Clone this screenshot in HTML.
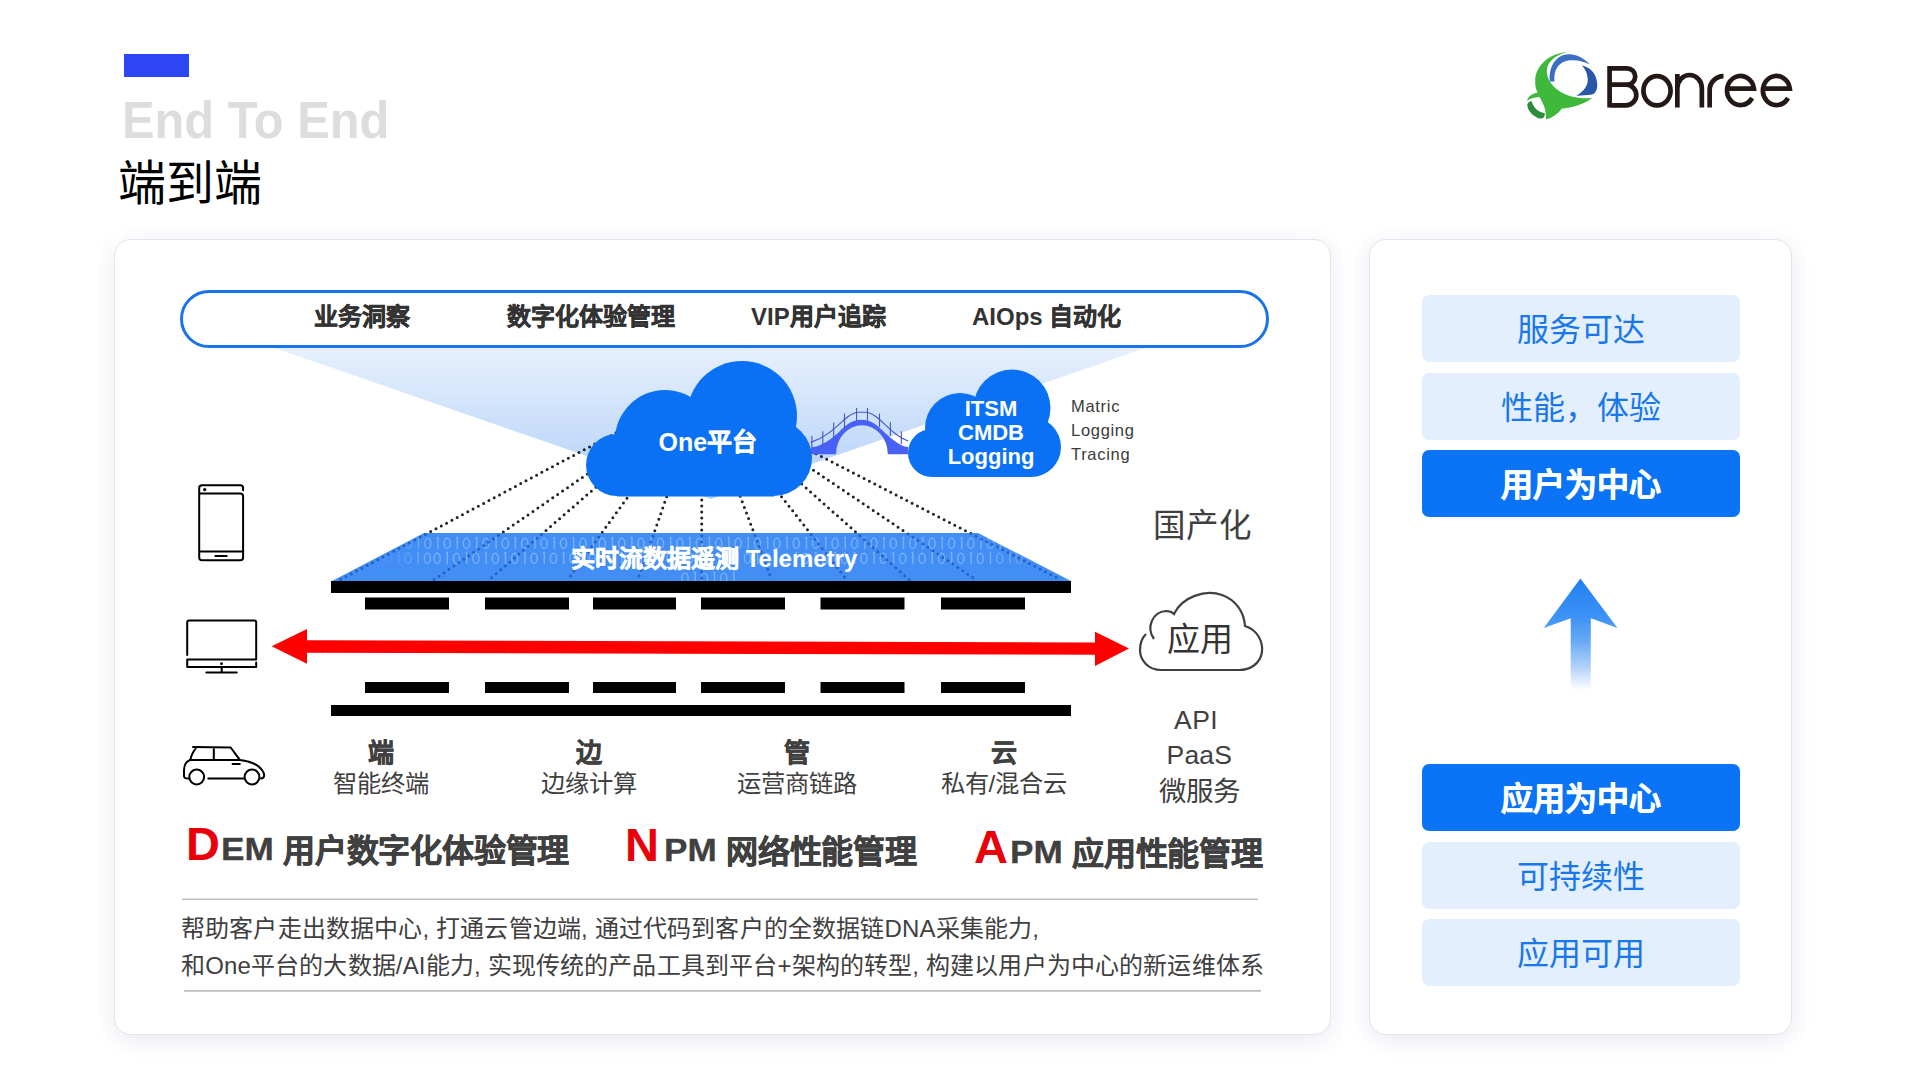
<!DOCTYPE html>
<html lang="zh-CN">
<head>
<meta charset="utf-8">
<style>
html,body{margin:0;padding:0;}
body{width:1920px;height:1080px;position:relative;overflow:hidden;background:#fff;font-family:"Liberation Sans",sans-serif;}
.a{position:absolute;white-space:nowrap;line-height:1;}
.card{position:absolute;background:#fff;border:1px solid #e3e4ec;border-radius:17px;box-shadow:0 5px 22px rgba(50,60,140,0.11);box-sizing:border-box;}
.box{position:absolute;left:1422px;width:318px;height:67px;border-radius:7px;background:#e4effd;color:#1877ea;font-size:32px;text-align:center;line-height:71.5px;}
.box.b{background:#0b74f6;color:#fff;font-weight:bold;-webkit-text-stroke:0.6px #fff;}
.sk{-webkit-text-stroke:0.5px currentColor;}
.sk6{-webkit-text-stroke:0.6px currentColor;}
svg{position:absolute;left:0;top:0;}
</style>
</head>
<body>
<!-- header -->
<div class="a" style="left:124px;top:54px;width:65px;height:23px;background:#2b46f2;"></div>
<div class="a" id="ete" style="left:122px;top:94px;transform:scaleX(0.938);transform-origin:0 0;font-size:52px;font-weight:bold;color:#dddddd;">End To End</div>
<div class="a" id="ddd" style="left:118px;top:160px;font-size:48px;color:#000;">端到端</div>

<!-- cards -->
<div class="card" style="left:114px;top:239px;width:1217px;height:796px;"></div>
<div class="card" style="left:1369px;top:239px;width:423px;height:796px;"></div>

<!-- right panel boxes -->
<div class="box" style="top:295px;">服务可达</div>
<div class="box" style="top:373px;">性能，体验</div>
<div class="box b" style="top:450px;">用户为中心</div>
<div class="box b" style="top:764px;">应用为中心</div>
<div class="box" style="top:842px;">可持续性</div>
<div class="box" style="top:919px;">应用可用</div>

<svg width="1920" height="1080" viewBox="0 0 1920 1080">
<defs>
<linearGradient id="beam" x1="0" y1="348" x2="0" y2="499" gradientUnits="userSpaceOnUse">
<stop offset="0" stop-color="#e6f0fd"/>
<stop offset="1" stop-color="#b0cff8"/>
</linearGradient>
<linearGradient id="uparr" x1="0" y1="578" x2="0" y2="690" gradientUnits="userSpaceOnUse">
<stop offset="0" stop-color="#1f7ff0"/>
<stop offset="0.35" stop-color="#3d93f5"/>
<stop offset="0.55" stop-color="#64a7f6"/>
<stop offset="0.8" stop-color="#b3d3f9"/>
<stop offset="1" stop-color="#ffffff"/>
</linearGradient>
<clipPath id="trapclip"><polygon points="424,533 978,533 1071,581 332,581"/></clipPath>
<linearGradient id="binfade" x1="380" y1="0" x2="1060" y2="0" gradientUnits="userSpaceOnUse">
<stop offset="0" stop-color="#8fbdf7" stop-opacity="0"/>
<stop offset="0.08" stop-color="#82b7f9" stop-opacity="0.85"/>
<stop offset="0.88" stop-color="#82b7f9" stop-opacity="0.85"/>
<stop offset="1" stop-color="#8fbdf7" stop-opacity="0"/>
</linearGradient>
</defs>

<!-- beam -->
<polygon points="275,348 1145,348 711,499" fill="url(#beam)"/>

<!-- dotted lines -->
<g stroke="#222" stroke-width="3" stroke-linecap="round" stroke-dasharray="0 6" fill="none">
<line x1="621.3" y1="430" x2="338" y2="581"/>
<line x1="636.7" y1="440" x2="433.5" y2="580"/>
<line x1="650.2" y1="440" x2="489" y2="580"/>
<line x1="669.3" y1="440" x2="567.5" y2="580"/>
<line x1="686.4" y1="440" x2="637.7" y2="580"/>
<line x1="701.9" y1="440" x2="701.6" y2="580"/>
<line x1="719" y1="440" x2="771.7" y2="580"/>
<line x1="737.2" y1="440" x2="846.8" y2="580"/>
<line x1="752.4" y1="440" x2="909.4" y2="580"/>
<line x1="768.7" y1="440" x2="976.4" y2="580"/>
<line x1="789.4" y1="440" x2="1061.3" y2="580"/>
</g>

<!-- telemetry trapezoid -->
<polygon points="424,533 978,533 1071,581 332,581" fill="#428ef5"/>

<g clip-path="url(#trapclip)" fill="none" stroke="url(#binfade)" stroke-width="1.4">
<ellipse cx="388.9" cy="543.4" rx="3.1" ry="5.1"/>
<path d="M397.8,537.8 l1.3,-0.2 v11.4"/>
<ellipse cx="408.3" cy="543.4" rx="3.1" ry="5.1"/>
<path d="M417.2,537.8 l1.3,-0.2 v11.4"/>
<ellipse cx="427.7" cy="543.4" rx="3.1" ry="5.1"/>
<path d="M436.6,537.8 l1.3,-0.2 v11.4"/>
<ellipse cx="447.1" cy="543.4" rx="3.1" ry="5.1"/>
<path d="M456.0,537.8 l1.3,-0.2 v11.4"/>
<ellipse cx="466.5" cy="543.4" rx="3.1" ry="5.1"/>
<path d="M475.4,537.8 l1.3,-0.2 v11.4"/>
<ellipse cx="485.9" cy="543.4" rx="3.1" ry="5.1"/>
<path d="M494.8,537.8 l1.3,-0.2 v11.4"/>
<ellipse cx="505.3" cy="543.4" rx="3.1" ry="5.1"/>
<path d="M514.2,537.8 l1.3,-0.2 v11.4"/>
<ellipse cx="524.7" cy="543.4" rx="3.1" ry="5.1"/>
<path d="M533.6,537.8 l1.3,-0.2 v11.4"/>
<ellipse cx="544.1" cy="543.4" rx="3.1" ry="5.1"/>
<path d="M553.0,537.8 l1.3,-0.2 v11.4"/>
<ellipse cx="563.5" cy="543.4" rx="3.1" ry="5.1"/>
<path d="M572.4,537.8 l1.3,-0.2 v11.4"/>
<ellipse cx="582.9" cy="543.4" rx="3.1" ry="5.1"/>
<path d="M591.8,537.8 l1.3,-0.2 v11.4"/>
<ellipse cx="602.3" cy="543.4" rx="3.1" ry="5.1"/>
<path d="M611.2,537.8 l1.3,-0.2 v11.4"/>
<ellipse cx="621.7" cy="543.4" rx="3.1" ry="5.1"/>
<path d="M630.6,537.8 l1.3,-0.2 v11.4"/>
<ellipse cx="641.1" cy="543.4" rx="3.1" ry="5.1"/>
<path d="M650.0,537.8 l1.3,-0.2 v11.4"/>
<ellipse cx="660.5" cy="543.4" rx="3.1" ry="5.1"/>
<path d="M669.4,537.8 l1.3,-0.2 v11.4"/>
<ellipse cx="679.9" cy="543.4" rx="3.1" ry="5.1"/>
<path d="M688.8,537.8 l1.3,-0.2 v11.4"/>
<ellipse cx="699.3" cy="543.4" rx="3.1" ry="5.1"/>
<path d="M708.2,537.8 l1.3,-0.2 v11.4"/>
<ellipse cx="718.7" cy="543.4" rx="3.1" ry="5.1"/>
<path d="M727.6,537.8 l1.3,-0.2 v11.4"/>
<ellipse cx="738.1" cy="543.4" rx="3.1" ry="5.1"/>
<path d="M747.0,537.8 l1.3,-0.2 v11.4"/>
<ellipse cx="757.5" cy="543.4" rx="3.1" ry="5.1"/>
<path d="M766.4,537.8 l1.3,-0.2 v11.4"/>
<ellipse cx="776.9" cy="543.4" rx="3.1" ry="5.1"/>
<path d="M785.8,537.8 l1.3,-0.2 v11.4"/>
<ellipse cx="796.3" cy="543.4" rx="3.1" ry="5.1"/>
<path d="M805.2,537.8 l1.3,-0.2 v11.4"/>
<ellipse cx="815.7" cy="543.4" rx="3.1" ry="5.1"/>
<path d="M824.6,537.8 l1.3,-0.2 v11.4"/>
<ellipse cx="835.1" cy="543.4" rx="3.1" ry="5.1"/>
<path d="M844.0,537.8 l1.3,-0.2 v11.4"/>
<ellipse cx="854.5" cy="543.4" rx="3.1" ry="5.1"/>
<path d="M863.4,537.8 l1.3,-0.2 v11.4"/>
<ellipse cx="873.9" cy="543.4" rx="3.1" ry="5.1"/>
<path d="M882.8,537.8 l1.3,-0.2 v11.4"/>
<ellipse cx="893.3" cy="543.4" rx="3.1" ry="5.1"/>
<path d="M902.2,537.8 l1.3,-0.2 v11.4"/>
<ellipse cx="912.7" cy="543.4" rx="3.1" ry="5.1"/>
<path d="M921.6,537.8 l1.3,-0.2 v11.4"/>
<ellipse cx="932.1" cy="543.4" rx="3.1" ry="5.1"/>
<path d="M941.0,537.8 l1.3,-0.2 v11.4"/>
<ellipse cx="951.5" cy="543.4" rx="3.1" ry="5.1"/>
<path d="M960.4,537.8 l1.3,-0.2 v11.4"/>
<ellipse cx="970.9" cy="543.4" rx="3.1" ry="5.1"/>
<path d="M979.8,537.8 l1.3,-0.2 v11.4"/>
<ellipse cx="990.3" cy="543.4" rx="3.1" ry="5.1"/>
<path d="M999.2,537.8 l1.3,-0.2 v11.4"/>
<ellipse cx="1009.7" cy="543.4" rx="3.1" ry="5.1"/>
<ellipse cx="359.5" cy="558.4" rx="3.1" ry="5.1"/>
<path d="M368.4,552.8 l1.3,-0.2 v11.4"/>
<path d="M378.1,552.8 l1.3,-0.2 v11.4"/>
<ellipse cx="388.6" cy="558.4" rx="3.1" ry="5.1"/>
<path d="M397.5,552.8 l1.3,-0.2 v11.4"/>
<ellipse cx="408.0" cy="558.4" rx="3.1" ry="5.1"/>
<path d="M416.9,552.8 l1.3,-0.2 v11.4"/>
<ellipse cx="427.4" cy="558.4" rx="3.1" ry="5.1"/>
<ellipse cx="437.1" cy="558.4" rx="3.1" ry="5.1"/>
<path d="M446.0,552.8 l1.3,-0.2 v11.4"/>
<ellipse cx="456.5" cy="558.4" rx="3.1" ry="5.1"/>
<path d="M465.4,552.8 l1.3,-0.2 v11.4"/>
<ellipse cx="475.9" cy="558.4" rx="3.1" ry="5.1"/>
<path d="M484.8,552.8 l1.3,-0.2 v11.4"/>
<ellipse cx="495.3" cy="558.4" rx="3.1" ry="5.1"/>
<path d="M504.2,552.8 l1.3,-0.2 v11.4"/>
<ellipse cx="514.7" cy="558.4" rx="3.1" ry="5.1"/>
<path d="M523.6,552.8 l1.3,-0.2 v11.4"/>
<ellipse cx="534.1" cy="558.4" rx="3.1" ry="5.1"/>
<path d="M543.0,552.8 l1.3,-0.2 v11.4"/>
<ellipse cx="553.5" cy="558.4" rx="3.1" ry="5.1"/>
<path d="M562.4,552.8 l1.3,-0.2 v11.4"/>
<ellipse cx="572.9" cy="558.4" rx="3.1" ry="5.1"/>
<path d="M581.8,552.8 l1.3,-0.2 v11.4"/>
<ellipse cx="592.3" cy="558.4" rx="3.1" ry="5.1"/>
<path d="M601.2,552.8 l1.3,-0.2 v11.4"/>
<ellipse cx="611.7" cy="558.4" rx="3.1" ry="5.1"/>
<path d="M620.6,552.8 l1.3,-0.2 v11.4"/>
<ellipse cx="631.1" cy="558.4" rx="3.1" ry="5.1"/>
<path d="M640.0,552.8 l1.3,-0.2 v11.4"/>
<ellipse cx="650.5" cy="558.4" rx="3.1" ry="5.1"/>
<path d="M659.4,552.8 l1.3,-0.2 v11.4"/>
<ellipse cx="669.9" cy="558.4" rx="3.1" ry="5.1"/>
<path d="M678.8,552.8 l1.3,-0.2 v11.4"/>
<ellipse cx="689.3" cy="558.4" rx="3.1" ry="5.1"/>
<path d="M698.2,552.8 l1.3,-0.2 v11.4"/>
<ellipse cx="708.7" cy="558.4" rx="3.1" ry="5.1"/>
<path d="M717.6,552.8 l1.3,-0.2 v11.4"/>
<ellipse cx="728.1" cy="558.4" rx="3.1" ry="5.1"/>
<path d="M737.0,552.8 l1.3,-0.2 v11.4"/>
<ellipse cx="747.5" cy="558.4" rx="3.1" ry="5.1"/>
<path d="M756.4,552.8 l1.3,-0.2 v11.4"/>
<ellipse cx="766.9" cy="558.4" rx="3.1" ry="5.1"/>
<path d="M775.8,552.8 l1.3,-0.2 v11.4"/>
<ellipse cx="786.3" cy="558.4" rx="3.1" ry="5.1"/>
<path d="M795.2,552.8 l1.3,-0.2 v11.4"/>
<ellipse cx="805.7" cy="558.4" rx="3.1" ry="5.1"/>
<path d="M814.6,552.8 l1.3,-0.2 v11.4"/>
<ellipse cx="825.1" cy="558.4" rx="3.1" ry="5.1"/>
<path d="M834.0,552.8 l1.3,-0.2 v11.4"/>
<ellipse cx="844.5" cy="558.4" rx="3.1" ry="5.1"/>
<path d="M853.4,552.8 l1.3,-0.2 v11.4"/>
<ellipse cx="863.9" cy="558.4" rx="3.1" ry="5.1"/>
<path d="M872.8,552.8 l1.3,-0.2 v11.4"/>
<ellipse cx="883.3" cy="558.4" rx="3.1" ry="5.1"/>
<path d="M892.2,552.8 l1.3,-0.2 v11.4"/>
<ellipse cx="902.7" cy="558.4" rx="3.1" ry="5.1"/>
<path d="M911.6,552.8 l1.3,-0.2 v11.4"/>
<ellipse cx="922.1" cy="558.4" rx="3.1" ry="5.1"/>
<path d="M931.0,552.8 l1.3,-0.2 v11.4"/>
<ellipse cx="941.5" cy="558.4" rx="3.1" ry="5.1"/>
<path d="M950.4,552.8 l1.3,-0.2 v11.4"/>
<ellipse cx="960.9" cy="558.4" rx="3.1" ry="5.1"/>
<path d="M969.8,552.8 l1.3,-0.2 v11.4"/>
<ellipse cx="980.3" cy="558.4" rx="3.1" ry="5.1"/>
<path d="M989.2,552.8 l1.3,-0.2 v11.4"/>
<ellipse cx="999.7" cy="558.4" rx="3.1" ry="5.1"/>
<path d="M1008.6,552.8 l1.3,-0.2 v11.4"/>
<ellipse cx="1019.1" cy="558.4" rx="3.1" ry="5.1"/>
<path d="M1028.0,552.8 l1.3,-0.2 v11.4"/>
<ellipse cx="685.0" cy="578.2" rx="3.1" ry="5.1"/>
<path d="M693.9,572.6 l1.3,-0.2 v11.4"/>
<ellipse cx="704.4" cy="578.2" rx="3.1" ry="5.1"/>
<path d="M713.3,572.6 l1.3,-0.2 v11.4"/>
<ellipse cx="723.8" cy="578.2" rx="3.1" ry="5.1"/>
<path d="M732.7,572.6 l1.3,-0.2 v11.4"/>
</g>

<!-- dots over trapezoid -->
<g clip-path="url(#trapclip)" stroke="#1d58c4" stroke-opacity="0.85" stroke-width="3" stroke-linecap="round" stroke-dasharray="0 6" fill="none">
<line x1="621.3" y1="430" x2="338" y2="581"/>
<line x1="636.7" y1="440" x2="433.5" y2="580"/>
<line x1="650.2" y1="440" x2="489" y2="580"/>
<line x1="669.3" y1="440" x2="567.5" y2="580"/>
<line x1="686.4" y1="440" x2="637.7" y2="580"/>
<line x1="701.9" y1="440" x2="701.6" y2="580"/>
<line x1="719" y1="440" x2="771.7" y2="580"/>
<line x1="737.2" y1="440" x2="846.8" y2="580"/>
<line x1="752.4" y1="440" x2="909.4" y2="580"/>
<line x1="768.7" y1="440" x2="976.4" y2="580"/>
<line x1="789.4" y1="440" x2="1061.3" y2="580"/>
</g>


<!-- bars -->
<g fill="#000">
<rect x="331" y="581" width="740" height="12"/>
<rect x="331" y="705" width="740" height="11"/>
<rect x="365" y="597.5" width="84" height="12"/>
<rect x="485" y="597.5" width="84" height="12"/>
<rect x="593" y="597.5" width="83" height="12"/>
<rect x="701" y="597.5" width="84" height="12"/>
<rect x="820.5" y="597.5" width="84" height="12"/>
<rect x="941" y="597.5" width="84" height="12"/>
<rect x="365" y="682" width="84" height="11"/>
<rect x="485" y="682" width="84" height="11"/>
<rect x="593" y="682" width="83" height="11"/>
<rect x="701" y="682" width="84" height="11"/>
<rect x="820.5" y="682" width="84" height="11"/>
<rect x="941" y="682" width="84" height="11"/>
</g>

<!-- red arrow -->
<polygon fill="#ff0000" points="271.7,646.3 307,629 307,640.3 1095,642.4 1095,631.8 1129,648.5 1095,666 1095,654.7 307,652.8 307,663.8"/>

<!-- One cloud -->
<g fill="#0a71f5">
<circle cx="742" cy="416" r="55"/>
<circle cx="665" cy="440" r="50"/>
<circle cx="617" cy="465" r="31"/>
<circle cx="774" cy="458" r="38"/>
<rect x="617" y="440" width="157" height="56.5"/>
</g>

<!-- ITSM cloud -->
<g fill="#0a71f5">
<circle cx="1012" cy="408" r="38.5"/>
<circle cx="960" cy="428" r="35"/>
<circle cx="932" cy="453" r="24"/>
<circle cx="1031" cy="447" r="30"/>
<rect x="932" y="430" width="99" height="47"/>
</g>

<!-- bridge -->
<path fill="#4861f4" d="M811,447.6 C822,446 830,440 838,433 C846,425 852,419.8 861.5,419.8 C871,419.8 877,425 885,433 C893,440 900,446 908,447 L908,454.2 L887.8,454.2 A25.9 29 0 0 0 836,454.2 L811,454.2 Z"/>
<g fill="none" stroke="#4654c8" stroke-width="1.1">
<path d="M810.7,442.4 C825,438 835,428 845,419 C851,414 854,412.3 858,412.3 L866,412.3 C870,412.3 873,414 879,419 C889,428 897,437 908.2,441"/>
<path d="M811.9,436.1 V448 M822.8,431.2 V445 M833.7,422.6 V438 M844.5,413.5 V428 M856.6,408 V421 M867.5,408 V421 M879.5,413.5 V427 M890.4,422.3 V436 M901.3,431.2 V444"/>
</g>

<!-- outline cloud (应用) -->
<path fill="none" stroke="#404040" stroke-width="2.2" d="M1154,639 C1146,628 1152,612 1166,611 C1170,611 1172,612 1174,614 C1182,597 1205,589 1222,595 C1236,600 1244,612 1245,626 C1258,630 1263,642 1262,652 C1260,664 1250,670 1239,670 L1161,670 C1148,670 1140,660 1140,650 C1140,643 1143,637 1146,634"/>

<!-- up arrow (right panel) -->
<path fill="url(#uparr)" d="M1580.4,578.5 L1617.5,628 L1590.8,618.3 L1590.8,692 L1570.7,692 L1570.7,618.3 L1543.8,628 Z"/>

<!-- device icons -->
<g fill="none" stroke="#000" stroke-width="2" stroke-linecap="round" stroke-linejoin="round">
<!-- phone -->
<path d="M243.1,490.2 V488 Q243.1,485.3 240.4,485.3 H202 Q199.2,485.3 199.2,488 V557.5 Q199.2,560.3 202,560.3 H240.4 Q243.1,560.3 243.1,557.5 V496.4 Q243.1,493.6 240.3,493.6 H200"/>
<path d="M200,551.5 H242.5"/>
<path d="M215.4,556 H226.7"/>
<!-- monitor -->
<path d="M187.2,655 V622.5 Q187.2,620.6 189,620.6 H254.5 Q256.2,620.6 256.2,622.5 V659.6 H187.2 V667 H256.2 V662.5"/>
<path d="M221.7,667 V672.5 M206.3,672.5 H236.7"/>
<!-- car -->
<path d="M193,747 L230.7,747.5 L239.8,759.8 M196,748 C193,752 191,756 190.4,759.5 M213.8,748 V760 M190,760 H240 C248,761 258,764 262,770 C265,774 265,778 261,778.5 M190,760 C185,762 184,766 184,770 L184,776 C184,778 186,778.5 188.5,778.5 M208.3,778.5 H243.4 M232.6,764 H239.8"/>
<circle cx="196.7" cy="777" r="7.4"/>
<circle cx="252" cy="777" r="7.4"/>
</g>
<circle cx="204.7" cy="489.6" r="1.7" fill="#000"/>
<circle cx="221.5" cy="663.7" r="1.4" fill="#000"/>

<!-- separators -->
<line x1="182" y1="899.2" x2="1258" y2="899.2" stroke="#bdbdbd" stroke-width="1.6"/>
<line x1="184" y1="990.9" x2="1261" y2="990.9" stroke="#bdbdbd" stroke-width="1.6"/>

<!-- logo -->
<g id="logoicon">
<path fill="#3fb83b" d="M1567.4,52 C1550,53 1536,65 1535.2,80 C1535,86 1536,90 1537.8,92.4 C1533,93 1528,96 1527,101 C1531,98 1536,97 1539.3,97 C1542,101 1545,107 1545.5,112 C1546,115 1546,118 1546,119.4 C1552,118 1558,114 1561.5,108.7 C1572,108 1585,104 1591.9,98 C1580,99 1568,97 1559.3,91 C1550,85 1546,76 1547,69.4 C1548,61 1556,55 1567.4,52 Z"/>
<path fill="#2a8c3c" d="M1531.5,101 C1528,102 1527,104 1527.4,106 C1528,111 1533,116 1538.5,118.3 C1541,119 1543,118.5 1544,117 C1545,115 1545,113.5 1544.4,113 C1541,112.5 1538,111 1536,109 C1534,107 1532.5,104 1531.5,101 Z"/>
<path fill="#3b6fc6" d="M1549.8,81.5 C1548.5,70 1553,59.5 1562,55.5 C1571,52 1582,55.5 1590,64.6 C1582,60.5 1572,58.8 1564,61.8 C1557,64.8 1553.5,72 1554.5,81.5 Z"/>
<path fill="#2857a7" d="M1581.5,65.4 C1590,67 1596,73 1597,82 C1598,89 1596,93 1592,94.6 C1586,95.5 1580,95.8 1576.3,95.7 C1583,92 1588,86 1587.8,79.8 C1587.5,73 1585,68 1581.5,65.4 Z"/>
</g>
<g id="logo">
<g fill="none" stroke="#231815" stroke-width="4.7">
<path d="M1609.6,66 V107.6 M1609.6,68.3 H1627 A8.2 8.2 0 0 1 1627,84.7 H1609.6 M1627,84.7 H1626 A10.3 10.3 0 0 1 1626,105.3 H1609.6"/>
<ellipse cx="1657" cy="90.7" rx="13.6" ry="14.6"/>
<path d="M1677.35,74 V107.6 M1677.35,88 A12.25 13 0 0 1 1701.85,88 V107.6"/>
<path d="M1709.65,107.6 V90 A14 14 0 0 1 1723.5,76.1"/>
<path d="M1726.9,88.6 H1753.9 A13.5 14.6 0 1 0 1752.1,98"/>
<path d="M1762.8,88.6 H1789.8 A13.5 14.6 0 1 0 1788,98"/>
</g>
</g>
</svg>

<!-- pill -->
<div class="a" style="left:180px;top:290px;width:1083px;height:52px;border:3px solid #1a73e8;border-radius:30px;background:#fff;"></div>
<div class="a" style="left:314px;top:305px;font-size:24px;font-weight:bold;color:#333;-webkit-text-stroke:0.5px #333;">业务洞察</div>
<div class="a" style="left:507px;top:305px;font-size:24px;font-weight:bold;color:#333;-webkit-text-stroke:0.5px #333;">数字化体验管理</div>
<div class="a" style="left:751px;top:305px;font-size:24px;font-weight:bold;color:#333;">VIP<span class="sk">用户追踪</span></div>
<div class="a" style="left:972px;top:305px;font-size:24px;font-weight:bold;color:#333;">AIOps <span class="sk">自动化</span></div>

<!-- cloud texts -->
<div class="a" style="left:658.5px;top:430px;font-size:25px;font-weight:bold;color:#fff;">One<span class="sk">平台</span></div>
<div class="a" style="left:930px;top:397px;width:122px;text-align:center;font-size:22px;font-weight:bold;color:#fff;line-height:24px;">ITSM<br>CMDB<br>Logging</div>
<div class="a" style="left:1071px;top:394px;font-size:16.5px;letter-spacing:0.7px;color:#3a3a3a;line-height:24px;">Matric<br>Logging<br>Tracing</div>

<!-- telemetry -->
<div class="a" style="left:571px;top:547px;font-size:24px;font-weight:bold;color:#fff;"><span class="sk">实时流数据遥测</span> Telemetry</div>

<!-- right side labels -->
<div class="a" style="left:1153px;top:509.5px;font-size:32.5px;color:#404040;">国产化</div>
<div class="a" style="left:1167px;top:623px;font-size:33px;color:#333;">应用</div>
<div class="a" style="left:1174px;top:707px;font-size:26.5px;letter-spacing:0.5px;color:#404040;">API</div>
<div class="a" style="left:1166.5px;top:741.5px;font-size:26.5px;letter-spacing:0.2px;color:#404040;">PaaS</div>
<div class="a" style="left:1159px;top:778px;font-size:27.5px;color:#404040;">微服务</div>

<!-- bottom labels -->
<div class="a" style="left:331px;top:739.5px;width:100px;text-align:center;font-size:26px;font-weight:bold;color:#404040;-webkit-text-stroke:0.5px #404040;">端</div>
<div class="a" style="left:301px;top:771.5px;width:160px;text-align:center;font-size:24.3px;color:#404040;">智能终端</div>
<div class="a" style="left:539px;top:739.5px;width:100px;text-align:center;font-size:26px;font-weight:bold;color:#404040;-webkit-text-stroke:0.5px #404040;">边</div>
<div class="a" style="left:509px;top:771.5px;width:160px;text-align:center;font-size:24.3px;color:#404040;">边缘计算</div>
<div class="a" style="left:747px;top:739.5px;width:100px;text-align:center;font-size:26px;font-weight:bold;color:#404040;-webkit-text-stroke:0.5px #404040;">管</div>
<div class="a" style="left:717px;top:771.5px;width:160px;text-align:center;font-size:24.3px;color:#404040;">运营商链路</div>
<div class="a" style="left:954px;top:739.5px;width:100px;text-align:center;font-size:26px;font-weight:bold;color:#404040;-webkit-text-stroke:0.5px #404040;">云</div>
<div class="a" style="left:924px;top:771.5px;width:160px;text-align:center;font-size:24.3px;color:#404040;">私有/混合云</div>

<!-- DEM NPM APM -->
<div class="a" style="left:186px;top:820px;font-size:47px;font-weight:bold;color:#e8000b;">D</div>
<div class="a" style="left:221px;top:832.5px;font-size:32px;font-weight:bold;color:#404040;transform:scaleX(1.1);transform-origin:0 0;-webkit-text-stroke:0.3px #404040;">EM</div>
<div class="a" style="left:283px;top:835px;font-size:32px;font-weight:bold;color:#404040;letter-spacing:-0.2px;-webkit-text-stroke:0.6px #404040;">用户数字化体验管理</div>
<div class="a" style="left:625px;top:821px;font-size:47px;font-weight:bold;color:#e8000b;">N</div>
<div class="a" style="left:664px;top:833.5px;font-size:32px;font-weight:bold;color:#404040;transform:scaleX(1.1);transform-origin:0 0;-webkit-text-stroke:0.3px #404040;">PM</div>
<div class="a" style="left:726px;top:836px;font-size:32px;font-weight:bold;color:#404040;letter-spacing:-0.2px;-webkit-text-stroke:0.6px #404040;">网络性能管理</div>
<div class="a" style="left:974px;top:823px;font-size:47px;font-weight:bold;color:#e8000b;">A</div>
<div class="a" style="left:1009.5px;top:835.5px;font-size:32px;font-weight:bold;color:#404040;transform:scaleX(1.1);transform-origin:0 0;-webkit-text-stroke:0.3px #404040;">PM</div>
<div class="a" style="left:1072px;top:838px;font-size:32px;font-weight:bold;color:#404040;letter-spacing:-0.2px;-webkit-text-stroke:0.6px #404040;">应用性能管理</div>

<!-- description -->
<div class="a" style="left:181px;top:910px;font-size:24px;letter-spacing:0.15px;color:#404040;line-height:37.3px;">帮助客户走出数据中心, 打通云管边端, 通过代码到客户的全数据链DNA采集能力,<br>和One平台的大数据/AI能力, 实现传统的产品工具到平台+架构的转型, 构建以用户为中心的新运维体系</div>

</body>
</html>
